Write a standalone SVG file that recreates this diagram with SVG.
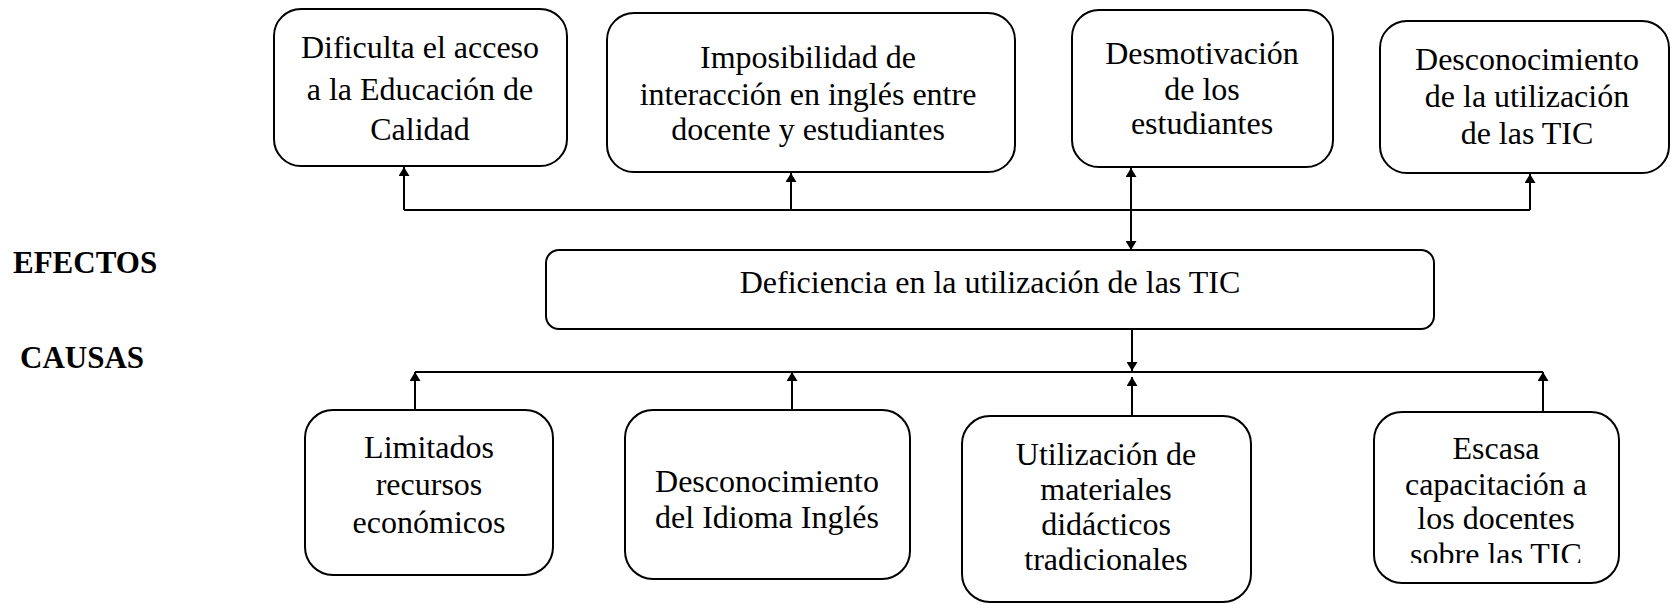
<svg xmlns="http://www.w3.org/2000/svg" width="1671" height="604" viewBox="0 0 1671 604">
<style>
.box{fill:#fff;stroke:#000;stroke-width:2}
.t{font-family:"Liberation Serif","Times New Roman",serif;font-size:32px;fill:#000;text-anchor:middle}
.lbl{font-family:"Liberation Serif","Times New Roman",serif;font-size:31px;font-weight:bold;fill:#000}
.c{fill:none;stroke:#000;stroke-width:2}
</style>
<defs>
<marker id="ah" viewBox="0 0 9 11" refX="9" refY="5.5" markerWidth="9" markerHeight="11" markerUnits="userSpaceOnUse" orient="auto">
<path d="M0,0 L9,5.5 L0,11 Z" fill="#000"/>
</marker>
<clipPath id="clip8"><rect x="1374" y="412" width="246" height="151"/></clipPath>
</defs>
<rect width="1671" height="604" fill="#fff"/>
<g id="connectors">
<polyline class="c" points="404,210 1530,210"/>
<line class="c" x1="404" y1="210" x2="404" y2="167" marker-end="url(#ah)"/>
<line class="c" x1="791" y1="210" x2="791" y2="173" marker-end="url(#ah)"/>
<line class="c" x1="1131" y1="210" x2="1131" y2="168" marker-end="url(#ah)"/>
<line class="c" x1="1530" y1="210" x2="1530" y2="174" marker-end="url(#ah)"/>
<line class="c" x1="1131" y1="210" x2="1131" y2="250" marker-end="url(#ah)"/>
<line class="c" x1="1132" y1="329" x2="1132" y2="371" marker-end="url(#ah)"/>
<polyline class="c" points="415,372 1543,372"/>
<line class="c" x1="415" y1="410" x2="415" y2="372" marker-end="url(#ah)"/>
<line class="c" x1="792" y1="410" x2="792" y2="372" marker-end="url(#ah)"/>
<line class="c" x1="1132" y1="416" x2="1132" y2="377" marker-end="url(#ah)"/>
<line class="c" x1="1543" y1="412" x2="1543" y2="372" marker-end="url(#ah)"/>
</g>
<g id="lbl-efectos"><text class="lbl" x="13" y="273">EFECTOS</text></g>
<g id="lbl-causas"><text class="lbl" x="20" y="368">CAUSAS</text></g>
<g id="e1">
<rect class="box" x="274" y="9" width="293" height="157" rx="27"/>
<text class="t" x="420" y="58">Dificulta el acceso</text>
<text class="t" x="420" y="100">a la Educación de</text>
<text class="t" x="420" y="140">Calidad</text>
</g>
<g id="e2">
<rect class="box" x="607" y="13" width="408" height="159" rx="27"/>
<text class="t" x="808" y="68">Imposibilidad de</text>
<text class="t" x="808" y="105">interacción en inglés entre</text>
<text class="t" x="808" y="140">docente y estudiantes</text>
</g>
<g id="e3">
<rect class="box" x="1072" y="10" width="261" height="157" rx="27"/>
<text class="t" x="1202" y="64">Desmotivación</text>
<text class="t" x="1202" y="100">de los</text>
<text class="t" x="1202" y="134">estudiantes</text>
</g>
<g id="e4">
<rect class="box" x="1380" y="21" width="289" height="152" rx="27"/>
<text class="t" x="1527" y="70">Desconocimiento</text>
<text class="t" x="1527" y="107">de la utilización</text>
<text class="t" x="1527" y="144">de las TIC</text>
</g>
<g id="central">
<rect class="box" x="546" y="250" width="888" height="79" rx="13"/>
<text class="t" x="990" y="293">Deficiencia en la utilización de las TIC</text>
</g>
<g id="c1">
<rect class="box" x="305" y="410" width="248" height="165" rx="28"/>
<text class="t" x="429" y="458">Limitados</text>
<text class="t" x="429" y="495">recursos</text>
<text class="t" x="429" y="533">económicos</text>
</g>
<g id="c2">
<rect class="box" x="625" y="410" width="285" height="169" rx="28"/>
<text class="t" x="767" y="492">Desconocimiento</text>
<text class="t" x="767" y="528">del Idioma Inglés</text>
</g>
<g id="c3">
<rect class="box" x="962" y="416" width="289" height="186" rx="28"/>
<text class="t" x="1106" y="465">Utilización de</text>
<text class="t" x="1106" y="500">materiales</text>
<text class="t" x="1106" y="535">didácticos</text>
<text class="t" x="1106" y="570">tradicionales</text>
</g>
<g id="c4">
<rect class="box" x="1374" y="412" width="245" height="171" rx="28"/>
<g clip-path="url(#clip8)">
<text class="t" x="1496" y="459">Escasa</text>
<text class="t" x="1496" y="495">capacitación a</text>
<text class="t" x="1496" y="529">los docentes</text>
<text class="t" x="1496" y="565">sobre las TIC</text>
</g>
</g>
</svg>
